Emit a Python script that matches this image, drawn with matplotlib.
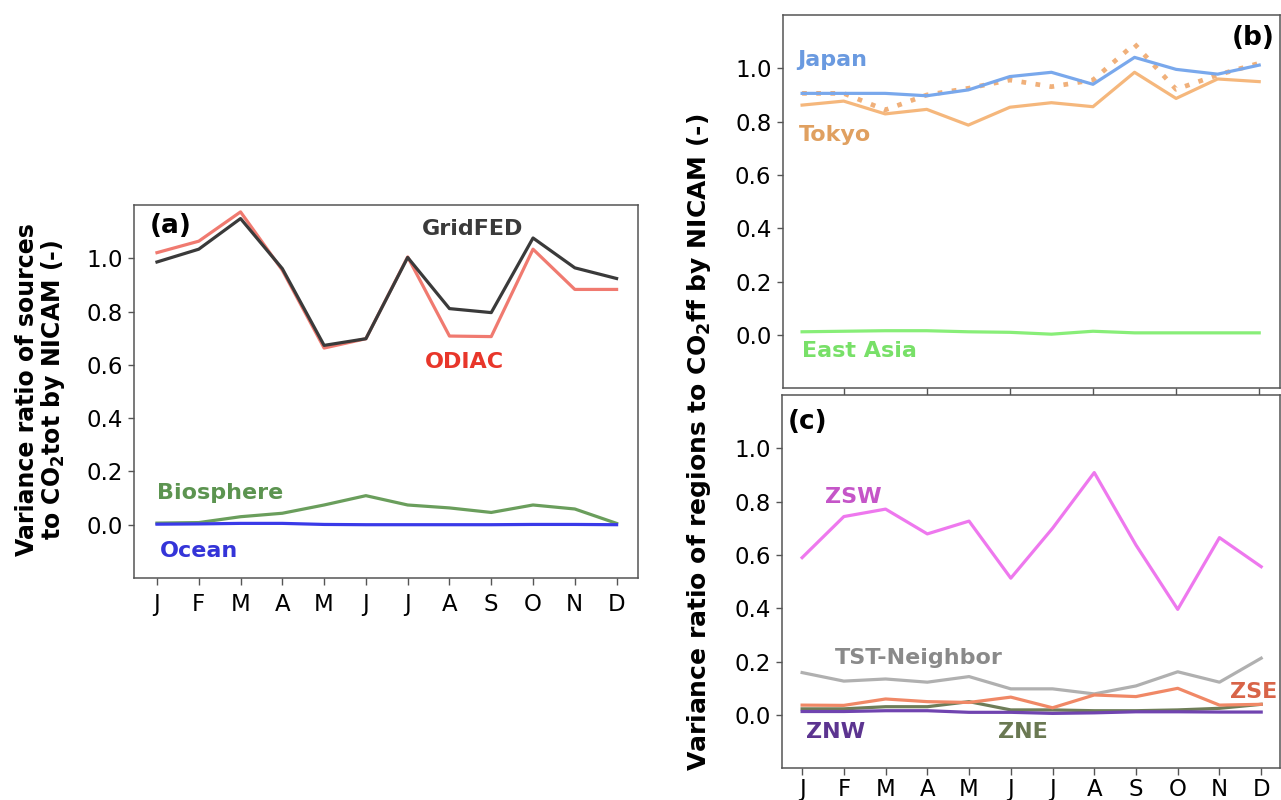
import numpy as np
import matplotlib
matplotlib.use('Agg')
import matplotlib.pyplot as plt

# months
months = ['J', 'F', 'M', 'A', 'M', 'J', 'J', 'A', 'S', 'O', 'N', 'D']

# (a) variance ratio of sources to CO2tot
gridfed = [0.986, 1.034, 1.149, 0.961, 0.673, 0.698, 1.003, 0.811, 0.796, 1.076, 0.964, 0.924]
odiac = [1.021, 1.064, 1.174, 0.955, 0.663, 0.698, 1.005, 0.708, 0.706, 1.034, 0.883, 0.883]
biosphere = [0.006, 0.008, 0.030, 0.043, 0.074, 0.109, 0.074, 0.063, 0.046, 0.074, 0.059, 0.005]
ocean = [0.002, 0.003, 0.005, 0.005, 0.001, 0.0, 0.0, 0.0, 0.0, 0.001, 0.001, 0.0]

# (b) variance ratio of regions to CO2ff
japan = [0.906, 0.906, 0.906, 0.897, 0.919, 0.969, 0.985, 0.940, 1.041, 0.996, 0.978, 1.012]
tokyo = [0.862, 0.877, 0.829, 0.846, 0.787, 0.854, 0.871, 0.856, 0.985, 0.887, 0.960, 0.950]
tokyo_dot = [0.906, 0.906, 0.844, 0.900, 0.925, 0.956, 0.931, 0.956, 1.091, 0.921, 0.975, 1.019]
east_asia = [0.012, 0.014, 0.016, 0.016, 0.012, 0.010, 0.003, 0.014, 0.008, 0.008, 0.008, 0.008]

# (c) zones
zsw = [0.590, 0.744, 0.772, 0.679, 0.727, 0.513, 0.700, 0.909, 0.637, 0.396, 0.665, 0.556]
tst = [0.159, 0.127, 0.135, 0.123, 0.144, 0.098, 0.098, 0.079, 0.109, 0.162, 0.123, 0.213]
zse = [0.037, 0.036, 0.060, 0.050, 0.047, 0.067, 0.027, 0.075, 0.069, 0.100, 0.037, 0.040]
zne = [0.023, 0.023, 0.031, 0.031, 0.050, 0.019, 0.019, 0.016, 0.016, 0.019, 0.025, 0.040]
znw = [0.013, 0.013, 0.016, 0.016, 0.010, 0.010, 0.006, 0.008, 0.012, 0.012, 0.011, 0.011]

x = np.arange(len(months))
lw = 2.3
yticks = [0.0, 0.2, 0.4, 0.6, 0.8, 1.0]
fs_lab = 16    # line labels
fs_pan = 19    # (a) (b) (c)

plt.rcParams['font.family'] = ['DejaVu Sans']
plt.rcParams['axes.edgecolor'] = '#555555'
plt.rcParams['axes.linewidth'] = 1.1
plt.rcParams['xtick.color'] = '#555555'
plt.rcParams['ytick.color'] = '#555555'
plt.rcParams['xtick.labelcolor'] = 'black'
plt.rcParams['ytick.labelcolor'] = 'black'

fig = plt.figure(figsize=(12.81, 8.0), dpi=100)

def setup(ax, xlim, show_labels=True, xpad=6):
    ax.set_ylim(-0.2, 1.2)
    ax.set_xlim(*xlim)
    ax.set_yticks(yticks)
    ax.set_yticklabels(['%.1f' % v for v in yticks], fontsize=16.5)
    if show_labels:
        ax.set_xticks(x)
        ax.set_xticklabels(months, fontsize=16.5)
    else:
        ax.set_xticks(x[1::2])
        ax.set_xticklabels([])
    ax.tick_params(axis='y', length=4, width=1, pad=4)
    ax.tick_params(axis='x', length=5, width=1, pad=xpad)

# ---- (a)
ax1 = fig.add_axes([0.1046, 0.2775, 0.3937, 0.4663])
ax1.plot(x, odiac, color='#f07a70', lw=lw)
ax1.plot(x, gridfed, color='#3a3a3a', lw=lw)
ax1.plot(x, biosphere, color='#6a9e5c', lw=lw)
ax1.plot(x, ocean, color='#3a3ae8', lw=lw)
setup(ax1, (-0.55, 11.52))
ax1.text(-0.17, 1.12, '(a)', fontsize=fs_pan, fontweight='bold', va='center')
ax1.text(6.35, 1.109, 'GridFED', fontsize=fs_lab, fontweight='bold', color='#3a3a3a', va='center')
ax1.text(6.4, 0.609, 'ODIAC', fontsize=fs_lab, fontweight='bold', color='#e8362a', va='center')
ax1.text(0.0, 0.12, 'Biosphere', fontsize=fs_lab, fontweight='bold', color='#5c9450', va='center')
ax1.text(0.07, -0.098, 'Ocean', fontsize=fs_lab, fontweight='bold', color='#3434d8', va='center')
fig.text(0.032, 0.5125, 'Variance ratio of sources\nto CO$_\\mathbf{2}$tot by NICAM (-)',
         rotation=90, fontsize=17, fontweight='bold', ha='center', va='center',
         linespacing=1.0)

# ---- (b)
ax2 = fig.add_axes([0.6109, 0.5146, 0.3883, 0.4667])
ax2.plot(x, tokyo, color='#f5b77c', lw=lw)
ax2.plot(x, tokyo_dot, color='#f0b07a', lw=3.4, linestyle=(0, (1, 2.0)), dash_capstyle='butt')
ax2.plot(x, japan, color='#79a8ec', lw=lw)
ax2.plot(x, east_asia, color='#88ee78', lw=lw)
setup(ax2, (-0.47, 11.5), show_labels=False)
ax2.text(10.35, 1.114, '(b)', fontsize=fs_pan, fontweight='bold', va='center')
ax2.text(-0.13, 1.031, 'Japan', fontsize=fs_lab, fontweight='bold', color='#6a9ae0', va='center')
ax2.text(-0.08, 0.75, 'Tokyo', fontsize=fs_lab, fontweight='bold', color='#e0a060', va='center')
ax2.text(0.0, -0.06, 'East Asia', fontsize=fs_lab, fontweight='bold', color='#78e068', va='center')

# ---- (c)
ax3 = fig.add_axes([0.6102, 0.0396, 0.3890, 0.4667])
ax3.plot(x, zsw, color='#ee78ee', lw=lw)
ax3.plot(x, tst, color='#b0b0b0', lw=lw)
ax3.plot(x, zne, color='#6e7d58', lw=lw)
ax3.plot(x, znw, color='#7044b0', lw=lw)
ax3.plot(x, zse, color='#f08866', lw=lw)
setup(ax3, (-0.49, 11.45), xpad=2)
ax3.text(-0.35, 1.10, '(c)', fontsize=fs_pan, fontweight='bold', va='center')
ax3.text(0.54, 0.819, 'ZSW', fontsize=fs_lab, fontweight='bold', color='#c555c8', va='center')
ax3.text(0.78, 0.213, 'TST-Neighbor', fontsize=fs_lab, fontweight='bold', color='#8a8a8a', va='center')
ax3.text(10.25, 0.087, 'ZSE', fontsize=fs_lab, fontweight='bold', color='#d86448', va='center')
ax3.text(0.1, -0.063, 'ZNW', fontsize=fs_lab, fontweight='bold', color='#5c3490', va='center')
ax3.text(4.69, -0.063, 'ZNE', fontsize=fs_lab, fontweight='bold', color='#6a7852', va='center')

fig.text(0.546, 0.4475, 'Variance ratio of regions to CO$_\\mathbf{2}$ff by NICAM (-)',
         rotation=90, fontsize=18, fontweight='bold', ha='center', va='center')

plt.savefig('out.png', dpi=100)
